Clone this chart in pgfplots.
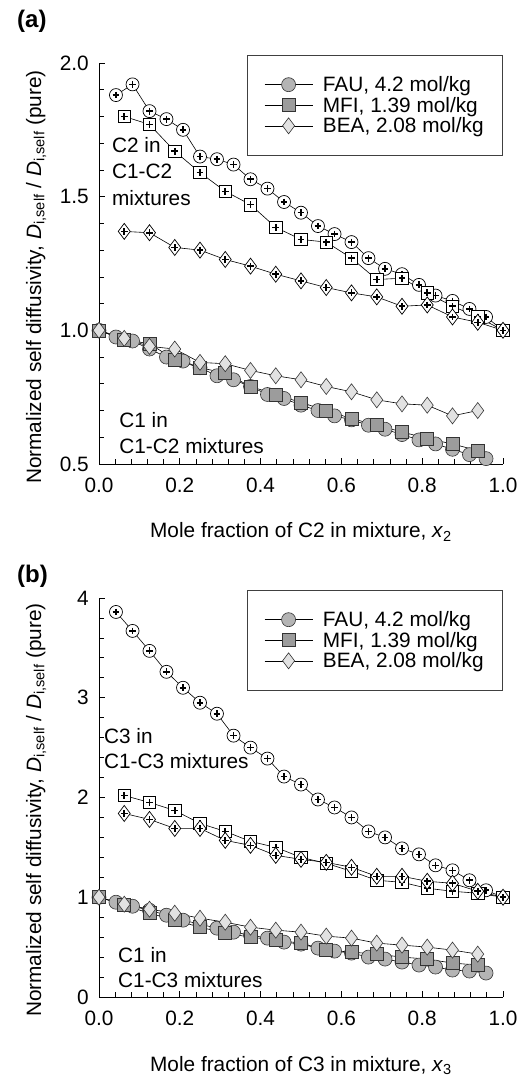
\documentclass[border=0pt]{standalone}
\usepackage{pgfplots}
\usepackage{pgfplotstable}
\pgfplotsset{compat=1.18}
\usepackage{fontspec}
\setmainfont{Liberation Sans}
\newcommand\fs{\fontsize{20.8bp}{25bp}\selectfont}
\definecolor{faufill}{HTML}{B4B4B4}
\definecolor{mfifill}{HTML}{9C9C9C}
\definecolor{beafill}{HTML}{E2E2E2}

% ---------- panel (a) ----------
\pgfplotstableread{
x y
0.042 1.88
0.083 1.92
0.125 1.82
0.167 1.79
0.208 1.75
0.25 1.65
0.292 1.64
0.333 1.62
0.375 1.565
0.417 1.53
0.458 1.48
0.5 1.44
0.542 1.39
0.583 1.36
0.625 1.33
0.667 1.27
0.708 1.23
0.75 1.21
0.792 1.17
0.833 1.13
0.875 1.11
0.917 1.08
0.958 1.05
1.0 1.0
}\aFAUtwo
\pgfplotstableread{
x y
0.0625 1.80
0.125 1.77
0.1875 1.67
0.25 1.59
0.3125 1.52
0.375 1.47
0.4375 1.385
0.5 1.34
0.5625 1.33
0.625 1.27
0.6875 1.19
0.75 1.195
0.8125 1.14
0.875 1.09
0.9375 1.05
1.0 1.0
}\aMFItwo
\pgfplotstableread{
x y
0.0625 1.37
0.125 1.365
0.1875 1.31
0.25 1.30
0.3125 1.265
0.375 1.24
0.4375 1.21
0.5 1.185
0.5625 1.16
0.625 1.14
0.6875 1.125
0.75 1.09
0.8125 1.095
0.875 1.05
0.9375 1.03
1.0 1.0
}\aBEAtwo
\pgfplotstableread{
x y
0 1.0
0.042 0.975
0.083 0.96
0.125 0.93
0.167 0.90
0.208 0.885
0.25 0.86
0.292 0.83
0.333 0.815
0.375 0.79
0.417 0.76
0.458 0.745
0.5 0.72
0.542 0.70
0.583 0.68
0.625 0.665
0.667 0.645
0.708 0.63
0.75 0.61
0.792 0.59
0.833 0.575
0.875 0.555
0.917 0.535
0.958 0.52
}\aFAUone
\pgfplotstableread{
x y
0 1.0
0.0625 0.965
0.125 0.95
0.1875 0.89
0.25 0.86
0.3125 0.84
0.375 0.79
0.4375 0.76
0.5 0.73
0.5625 0.70
0.625 0.67
0.6875 0.645
0.75 0.62
0.8125 0.595
0.875 0.575
0.9375 0.55
}\aMFIone
\pgfplotstableread{
x y
0 1.0
0.0625 0.97
0.125 0.94
0.1875 0.93
0.25 0.88
0.3125 0.875
0.375 0.85
0.4375 0.83
0.5 0.815
0.5625 0.79
0.625 0.77
0.6875 0.74
0.75 0.725
0.8125 0.72
0.875 0.68
0.9375 0.70
}\aBEAone

% ---------- panel (b) ----------
\pgfplotstableread{
x y
0.042 3.86
0.083 3.67
0.125 3.47
0.167 3.26
0.208 3.10
0.25 2.95
0.292 2.84
0.333 2.62
0.375 2.50
0.417 2.39
0.458 2.21
0.5 2.13
0.542 1.98
0.583 1.90
0.625 1.80
0.667 1.66
0.708 1.60
0.75 1.49
0.792 1.43
0.833 1.32
0.875 1.27
0.917 1.17
0.958 1.07
1.0 1.0
}\bFAUthree
\pgfplotstableread{
x y
0.0625 2.02
0.125 1.95
0.1875 1.87
0.25 1.74
0.3125 1.66
0.375 1.56
0.4375 1.50
0.5 1.40
0.5625 1.34
0.625 1.26
0.6875 1.17
0.75 1.15
0.8125 1.09
0.875 1.06
0.9375 1.04
1.0 1.0
}\bMFIthree
\pgfplotstableread{
x y
0.0625 1.84
0.125 1.78
0.1875 1.69
0.25 1.69
0.3125 1.57
0.375 1.52
0.4375 1.42
0.5 1.38
0.5625 1.35
0.625 1.30
0.6875 1.21
0.75 1.21
0.8125 1.16
0.875 1.14
0.9375 1.06
1.0 1.0
}\bBEAthree
\pgfplotstableread{
x y
0 1.0
0.042 0.95
0.083 0.91
0.125 0.87
0.167 0.82
0.208 0.77
0.25 0.73
0.292 0.69
0.333 0.65
0.375 0.62
0.417 0.59
0.458 0.55
0.5 0.53
0.542 0.49
0.583 0.46
0.625 0.44
0.667 0.40
0.708 0.38
0.75 0.35
0.792 0.32
0.833 0.30
0.875 0.27
0.917 0.26
0.958 0.24
}\bFAUone
\pgfplotstableread{
x y
0 1.0
0.0625 0.92
0.125 0.84
0.1875 0.77
0.25 0.70
0.3125 0.64
0.375 0.60
0.4375 0.57
0.5 0.54
0.5625 0.47
0.625 0.45
0.6875 0.43
0.75 0.40
0.8125 0.38
0.875 0.34
0.9375 0.32
}\bMFIone
\pgfplotstableread{
x y
0 1.0
0.0625 0.93
0.125 0.88
0.1875 0.84
0.25 0.79
0.3125 0.75
0.375 0.70
0.4375 0.67
0.5 0.65
0.5625 0.61
0.625 0.59
0.6875 0.54
0.75 0.52
0.8125 0.50
0.875 0.47
0.9375 0.43
}\bBEAone

\pgfplotsset{
  ln/.style={black, line width=0.6bp},
  faus/.style={ln, mark=*, mark size=7bp, mark options={draw=black!80, line width=0.6bp, fill=faufill}},
  mfis/.style={ln, mark=square*, mark size=6.5bp, mark options={draw=black!80, line width=0.6bp, fill=mfifill}},
  beas/.style={ln, mark=diamond*, mark size=8bp, mark options={draw=black!80, line width=0.6bp, fill=beafill}},
  fauo/.style={ln, mark=*, mark size=6.5bp, mark options={draw=black, line width=0.7bp, fill=white}},
  mfio/.style={ln, mark=square*, mark size=6.2bp, mark options={draw=black, line width=0.7bp, fill=white}},
  beao/.style={ln, mark=diamond*, mark size=8bp, mark options={draw=black, line width=0.7bp, fill=white}},
  plus/.style={only marks, mark=+, mark size=3.4bp, mark options={black, line width=1.6bp}},
  common/.style={
    scale only axis, width=404bp, anchor=south west,
    xmin=0, xmax=1,
    axis x line*=bottom, axis y line*=left,
    tick align=inside,
    xtick={0,0.2,0.4,0.6,0.8,1},
    xticklabels={0.0,0.2,0.4,0.6,0.8,1.0},
    minor x tick num=4,
    minor y tick num=4,
    major tick length=6bp, minor tick length=4.5bp,
    every tick/.style={black, line width=0.7bp},
    axis line style={black, line width=0.8bp},
    ticklabel style={font=\fs},
    xticklabel style={anchor=north, inner sep=0pt, yshift=-14bp},
    yticklabel style={anchor=east, inner sep=0pt, xshift=-10bp},
    clip=false,
    legend cell align=left,
    legend style={font=\fs, draw=black!75, line width=0.8bp, fill=white,
      at={(1,1)}, anchor=north east, yshift=8bp,
      inner xsep=17bp, inner ysep=19bp, row sep=0bp,
      nodes={inner sep=2bp},
      /tikz/every odd column/.append style={column sep=8bp}},
    legend image code/.code={\draw[mark repeat=2, mark phase=2, ##1] plot coordinates {(0bp,0bp) (24bp,0bp) (48bp,0bp)};},
  },
}

\begin{document}
\begin{tikzpicture}
\useasboundingbox (0,0) rectangle (518bp,1077bp);

% ---------------- (a) ----------------
\begin{axis}[common, at={(99bp,613bp)}, height=401bp,
  ymin=0.5, ymax=2.0, ytick={0.5,1,1.5,2}, yticklabels={0.5,1.0,1.5,2.0}]
\addlegendimage{faus}\addlegendentry{FAU, 4.2 mol/kg}
\addlegendimage{mfis}\addlegendentry{MFI, 1.39 mol/kg}
\addlegendimage{beas}\addlegendentry{BEA, 2.08 mol/kg}
\addplot[faus, forget plot] table {\aFAUone};
\addplot[mfis, forget plot] table {\aMFIone};
\addplot[beas, forget plot] table {\aBEAone};
\addplot[fauo, forget plot] table {\aFAUtwo};
\addplot[plus, forget plot] table {\aFAUtwo};
\addplot[mfio, forget plot] table {\aMFItwo};
\addplot[plus, forget plot] table {\aMFItwo};
\addplot[beao, forget plot] table {\aBEAtwo};
\addplot[plus, forget plot] table {\aBEAtwo};
\node[anchor=base west, font=\fs, inner sep=0pt] at (axis cs:0.032,1.664) {C2 in};
\node[anchor=base west, font=\fs, inner sep=0pt] at (axis cs:0.032,1.567) {C1-C2};
\node[anchor=base west, font=\fs, inner sep=0pt] at (axis cs:0.032,1.466) {mixtures};
\node[anchor=base west, font=\fs, inner sep=0pt] at (axis cs:0.05,0.635) {C1 in};
\node[anchor=base west, font=\fs, inner sep=0pt] at (axis cs:0.05,0.54) {C1-C2 mixtures};
\end{axis}

% ---------------- (b) ----------------
\begin{axis}[common, at={(99bp,80bp)}, height=399bp,
  ymin=0, ymax=4, ytick={0,1,2,3,4}, yticklabels={0,1,2,3,4}]
\addlegendimage{faus}\addlegendentry{FAU, 4.2 mol/kg}
\addlegendimage{mfis}\addlegendentry{MFI, 1.39 mol/kg}
\addlegendimage{beas}\addlegendentry{BEA, 2.08 mol/kg}
\addplot[faus, forget plot] table {\bFAUone};
\addplot[mfis, forget plot] table {\bMFIone};
\addplot[beas, forget plot] table {\bBEAone};
\addplot[fauo, forget plot] table {\bFAUthree};
\addplot[plus, forget plot] table {\bFAUthree};
\addplot[mfio, forget plot] table {\bMFIthree};
\addplot[plus, forget plot] table {\bMFIthree};
\addplot[beao, forget plot] table {\bBEAthree};
\addplot[plus, forget plot] table {\bBEAthree};
\node[anchor=base west, font=\fs, inner sep=0pt] at (axis cs:0.012,2.54) {C3 in};
\node[anchor=base west, font=\fs, inner sep=0pt] at (axis cs:0.012,2.29) {C1-C3 mixtures};
\node[anchor=base west, font=\fs, inner sep=0pt] at (axis cs:0.047,0.35) {C1 in};
\node[anchor=base west, font=\fs, inner sep=0pt] at (axis cs:0.047,0.10) {C1-C3 mixtures};
\end{axis}

% axis titles and panel labels
\node[anchor=base, font=\fs, inner sep=0pt] at (301bp,539bp) {Mole fraction of C2 in mixture, \textit{x}\textsubscript{2}};
\node[anchor=base, font=\fs, inner sep=0pt] at (301bp,6bp) {Mole fraction of C3 in mixture, \textit{x}\textsubscript{3}};
\node[anchor=base, rotate=90, font=\fs, inner sep=0pt] at (41bp,800bp) {Normalized self diffusivity, \textit{D}\textsubscript{i,self} / \textit{D}\textsubscript{i,self} (pure)};
\node[anchor=base, rotate=90, font=\fs, inner sep=0pt] at (41bp,267bp) {Normalized self diffusivity, \textit{D}\textsubscript{i,self} / \textit{D}\textsubscript{i,self} (pure)};
\node[anchor=base west, font=\fontsize{24bp}{28bp}\selectfont\bfseries, inner sep=0pt] at (17bp,1049bp) {(a)};
\node[anchor=base west, font=\fontsize{24bp}{28bp}\selectfont\bfseries, inner sep=0pt] at (17bp,494bp) {(b)};
\end{tikzpicture}
\end{document}
